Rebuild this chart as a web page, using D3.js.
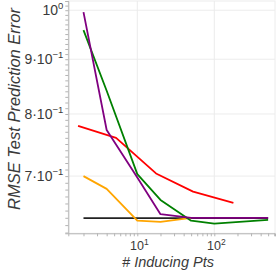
<!DOCTYPE html>
<html>
<head>
<meta charset="utf-8">
<script src="https://cdn.jsdelivr.net/npm/d3@7"></script>
<style>
  body { margin: 0; background: #fff; }
  svg { display: block; font-family: "Liberation Sans", Arial, sans-serif; }
</style>
</head>
<body>
<div id="chart"></div>
<script>
// # inducing points for most methods
const inducing = [2, 4, 10, 20, 50, 100, 500];
const green = [0.958, 0.841, 0.703, 0.665, 0.636, 0.632, 0.637];
const purple = [0.996, 0.773, 0.698, 0.645, 0.640, 0.640, 0.640];
const orangeX = [2, 4, 10, 20, 50];
const orange = [0.700, 0.681, 0.636, 0.6345, 0.640];
const redX = [1.7, 5.3, 17.5, 53, 177];
const red = [0.780, 0.760, 0.704, 0.677, 0.661];
const blackX = [2, 500];
const black = [0.6396, 0.6396];

const yTicks = [1, 0.9, 0.8, 0.7];
const yTickMant = ['', '9', '8', '7'];
const yTickExp = ['0', '-1', '-1', '-1'];
const xTicks = [10, 100];
const xTickExp = ['1', '2'];

const width = 276, height = 276;
const margin = { top: 1, right: 1, bottom: 42.7, left: 68.3 };

const svg = d3.select('#chart')
  .append('svg')
    .attr('width', width)
    .attr('height', height);

const x = d3.scaleLog()
  .domain([1.27, 614])
  .range([margin.left, width - margin.right]);

const y = d3.scaleLog()
  .domain([0.619, 1.02])
  .range([height - margin.bottom, margin.top]);

const gridColor = '#ececec';
const axisColor = '#b4b4b4';
const textColor = '#3a3a3a';

// frame + grid
svg.append('rect')
  .attr('x', margin.left).attr('y', margin.top)
  .attr('width', width - margin.right - margin.left)
  .attr('height', height - margin.bottom - margin.top)
  .attr('fill', 'none').attr('stroke', gridColor);

svg.append('g').selectAll('line')
  .data(yTicks)
  .enter().append('line')
    .attr('x1', margin.left).attr('x2', width - margin.right)
    .attr('y1', d => y(d)).attr('y2', d => y(d))
    .attr('stroke', gridColor);

svg.append('g').selectAll('line')
  .data(xTicks)
  .enter().append('line')
    .attr('y1', margin.top).attr('y2', height - margin.bottom)
    .attr('x1', d => x(d)).attr('x2', d => x(d))
    .attr('stroke', gridColor);

// axes: minor ticks all along
const xMinor = x.ticks().filter(d => d >= x.domain()[0] && d <= x.domain()[1]);
const yMinor = d3.range(62, 103).map(d => d / 100);

const xAxis = svg.append('g')
  .attr('transform', `translate(0,${height - margin.bottom})`)
  .call(d3.axisBottom(x).tickValues(xMinor).tickSize(3).tickFormat(''));
const yAxis = svg.append('g')
  .attr('transform', `translate(${margin.left},0)`)
  .call(d3.axisLeft(y).tickValues(yMinor).tickSize(3).tickFormat(''));

[xAxis, yAxis].forEach(a => {
  a.select('.domain').attr('stroke', axisColor);
  a.selectAll('.tick line').attr('stroke', axisColor);
});

// tick labels
const yLab = svg.append('g').selectAll('text')
  .data(yTicks)
  .enter().append('text')
    .attr('x', margin.left - 5)
    .attr('y', d => y(d) + 5)
    .attr('text-anchor', 'end')
    .attr('font-size', 14)
    .attr('fill', textColor);
yLab.append('tspan').text((d, i) => yTickMant[i] ? yTickMant[i] + '\u00b710' : '10');
yLab.append('tspan')
  .attr('dy', -6).attr('font-size', 9.5)
  .text((d, i) => yTickExp[i].replace('-', '\u2212'));

const xLab = svg.append('g').selectAll('text')
  .data(xTicks)
  .enter().append('text')
    .attr('x', d => x(d) + 2)
    .attr('y', 249.5)
    .attr('text-anchor', 'middle')
    .attr('font-size', 12.5)
    .attr('fill', textColor);
xLab.append('tspan').text('10');
xLab.append('tspan')
  .attr('dy', -5).attr('font-size', 8.5)
  .text((d, i) => xTickExp[i]);

// axis titles
svg.append('text')
  .attr('x', 168).attr('y', 267)
  .attr('text-anchor', 'middle')
  .attr('font-size', 14.5)
  .attr('font-style', 'italic')
  .attr('fill', textColor)
  .text('# Inducing Pts');

svg.append('text')
  .attr('transform', 'translate(20,109) rotate(-90)')
  .attr('text-anchor', 'middle')
  .attr('font-size', 16.5)
  .attr('font-style', 'italic')
  .attr('fill', textColor)
  .text('RMSE Test Prediction Error');

// series
const series = [
  { xs: blackX, ys: black, color: '#222' },
  { xs: orangeX, ys: orange, color: 'orange' },
  { xs: redX, ys: red, color: 'red' },
  { xs: inducing, ys: green, color: 'green' },
  { xs: inducing, ys: purple, color: 'purple' }
];

const line = d3.line()
  .x(d => x(d[0]))
  .y(d => y(d[1]));

svg.append('g').selectAll('path')
  .data(series)
  .enter().append('path')
    .attr('d', s => line(s.xs.map((v, i) => [v, s.ys[i]])))
    .attr('fill', 'none')
    .attr('stroke', s => s.color)
    .attr('stroke-width', 1.8)
    .attr('stroke-linejoin', 'round');
</script>
</body>
</html>
